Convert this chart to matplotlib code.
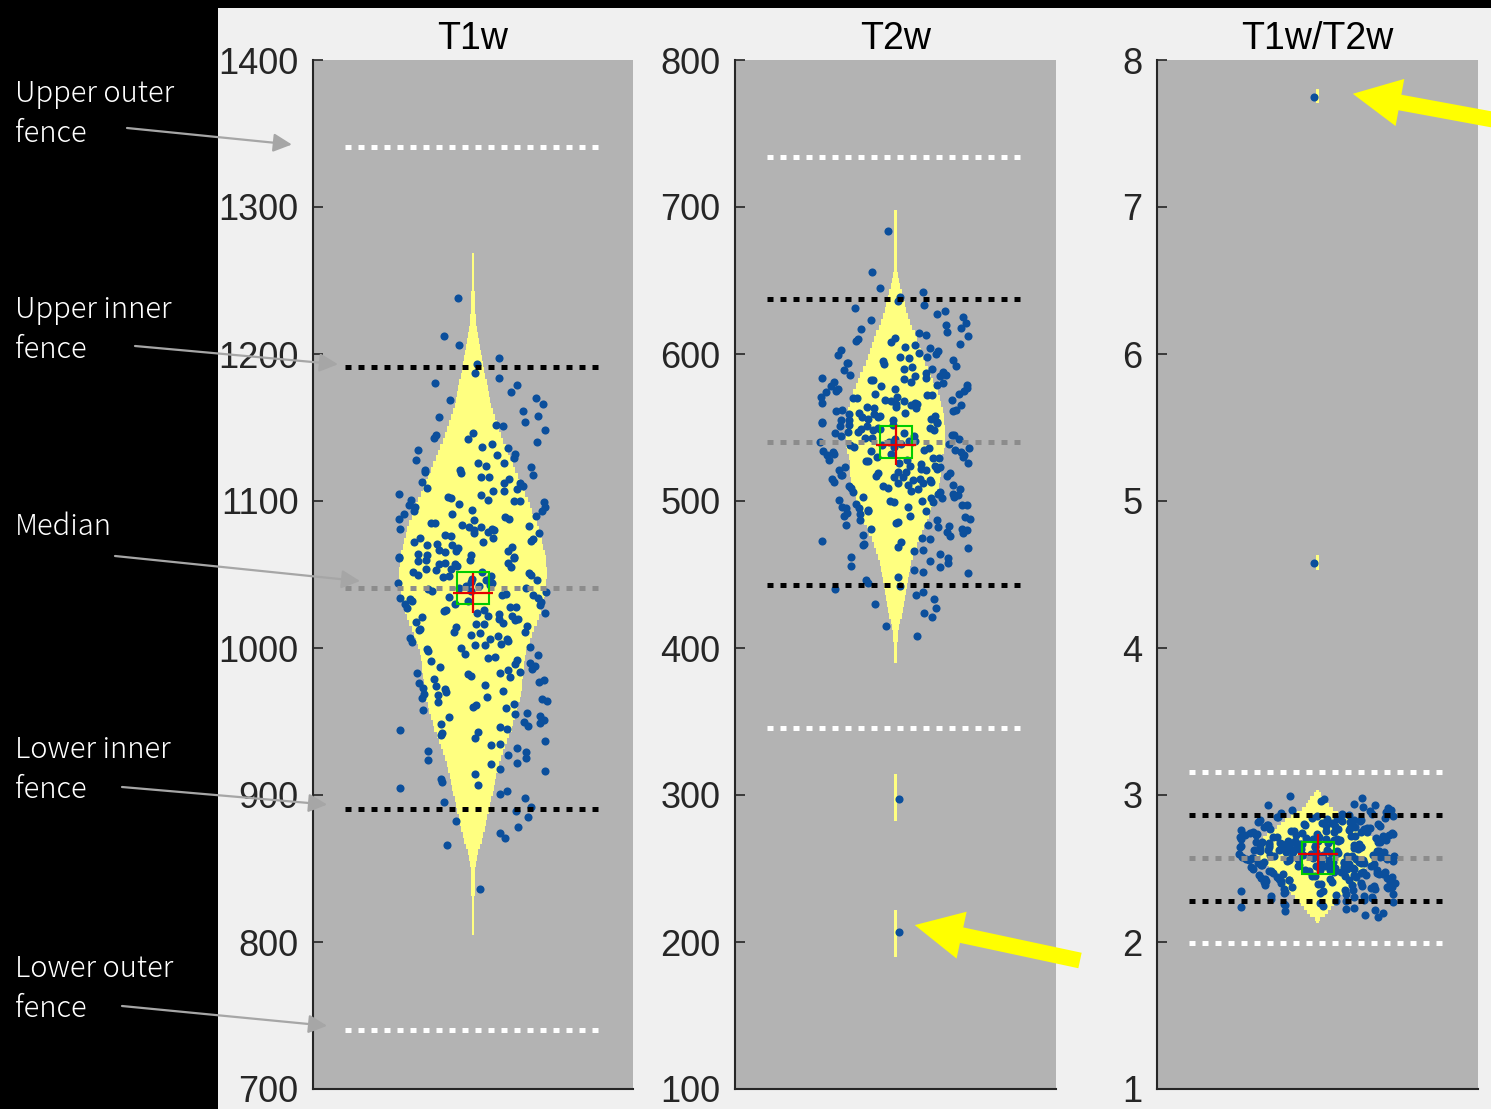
import numpy as np
import matplotlib
matplotlib.use("Agg")
import matplotlib.pyplot as plt
from matplotlib.patches import Rectangle
from matplotlib.transforms import blended_transform_factory

# ---------------------------------------------------------------- data
titles = ["T1w", "T2w", "T1w/T2w"]

t1w = [
    1238, 1212, 1206, 1197, 1193, 1187,
    1184, 1180, 1179, 1174, 1170, 1169, 1166, 1161,
    1158, 1157, 1154, 1152, 1151, 1148, 1146, 1145, 1143, 1142, 1140,
    1139, 1137, 1136, 1135, 1132, 1131, 1129, 1128, 1126, 1126, 1124, 1123, 1121, 1121, 1120,
    1119, 1118, 1116, 1116, 1115, 1113, 1112, 1112, 1110, 1109, 1108, 1107, 1107, 1105,
    1104, 1103, 1102, 1101, 1101, 1100, 1100,
    1099, 1098, 1097, 1096, 1096, 1094, 1093, 1093, 1091, 1091, 1090, 1089, 1088, 1088,
    1087, 1085, 1085, 1084, 1083, 1082, 1082, 1081, 1081, 1080, 1080,
    1079, 1078, 1078, 1077, 1076, 1075, 1075, 1074, 1073, 1072, 1072, 1071, 1070, 1070,
    1069, 1068, 1067, 1066, 1066, 1065, 1064, 1063, 1063, 1062, 1062, 1061, 1061, 1060, 1060,
    1059, 1058, 1058, 1057, 1057, 1056, 1055, 1054, 1054, 1053, 1052, 1052, 1051, 1050, 1050,
    1049, 1049, 1048, 1047, 1046, 1046, 1045, 1044, 1044, 1043, 1042, 1042, 1041, 1041, 1040,
    1039, 1039, 1038, 1037, 1036, 1036, 1035, 1034, 1034, 1033, 1032, 1032, 1031, 1030, 1030,
    1029, 1028, 1028, 1027, 1026, 1026, 1025, 1024, 1024, 1023, 1022, 1022, 1021, 1020, 1020,
    1019, 1018, 1017, 1016, 1016, 1015, 1014, 1013, 1012, 1011, 1011, 1010,
    1009, 1008, 1007, 1006, 1006, 1005, 1004, 1003, 1002, 1002, 1001, 1000,
    999, 998, 996, 995, 994, 993, 992, 991, 990, 989,
    988, 987, 986, 985, 984, 983, 983, 982, 981, 980,
    979, 978, 977, 976, 975, 974, 973, 972, 971, 970,
    969, 968, 967, 966, 965, 964, 963, 962, 961, 960,
    959, 958, 956, 955, 954, 953, 951, 950, 949, 948, 947, 946, 945, 944, 943, 942, 941,
    939, 937, 935, 934, 932, 930, 929, 927, 925, 924, 922, 921,
    918, 916, 914, 911, 909, 907, 905, 903, 901,
    898, 895, 892, 889, 885, 882,
    878, 874, 871, 866,
    836,
]

t2w = [
    684, 656, 645,
    642, 639, 636, 633, 631,
    629, 627, 625, 623, 621, 620, 618, 617, 615,
    614, 613, 612, 611, 610, 609, 608, 607, 606, 605, 604, 603, 602, 601,
    600, 599, 598, 598, 597, 596, 595, 594, 594, 593, 592, 591, 590, 590, 589, 588, 587,
    586, 586, 585, 585,
    584, 584, 583, 582, 582, 581, 581, 580, 579, 579, 578, 578, 577, 576, 576, 575, 575,
    574, 573, 573, 572, 572, 571, 571, 570, 570,
    569, 569, 568, 568, 567, 567, 566, 566, 565, 565, 564, 564, 563, 563, 562, 562, 561,
    561, 560, 560, 559, 559, 558, 558, 557, 557, 556, 556, 555, 555, 555,
    554, 554, 553, 553, 552, 552, 551, 551, 550, 550, 549, 549, 548, 548, 547, 547, 546,
    546, 545, 545, 544, 544, 543, 543, 542, 542, 541, 541, 541, 540, 540, 540,
    539, 539, 538, 538, 537, 537, 536, 536, 535, 535, 534, 534, 533, 533, 532, 532, 531,
    531, 530, 530, 529, 529, 528, 528, 527, 527, 526, 526, 525,
    524, 524, 523, 523, 522, 522, 521, 521, 520, 520, 519, 519, 518, 518, 517, 517, 516,
    516, 515, 515, 514, 514, 513, 513, 512, 512, 511, 511, 510, 510,
    509, 509, 508, 508, 507, 506, 506, 505, 505, 504, 503, 503, 502, 502, 501, 500, 500,
    499, 499, 498, 497, 497, 496, 496, 495, 495,
    494, 493, 493, 492, 491, 490, 490, 489, 488, 487, 487, 486, 485, 484, 484, 483, 482,
    481, 481, 480,
    479, 478, 477, 476, 475, 474, 473, 472, 471, 470, 469, 468, 467, 466,
    464, 462, 461, 459, 458, 456, 455, 453, 452, 451,
    448, 446, 444, 442, 440, 438, 436,
    433, 430, 427, 424, 421,
    415, 408,
    297, 207,
]

ratio = [
    7.75, 4.58,
    2.99, 2.98, 2.97, 2.96,
    2.94, 2.93, 2.93, 2.92, 2.91, 2.90,
    2.895, 2.89, 2.886, 2.88, 2.874, 2.87, 2.866, 2.86, 2.855, 2.851,
    2.848, 2.845, 2.843, 2.839, 2.836, 2.833, 2.831, 2.827, 2.824, 2.821, 2.818, 2.815,
    2.812, 2.809, 2.806, 2.802,
    2.798, 2.796, 2.793, 2.791, 2.788, 2.786, 2.783, 2.781, 2.778, 2.776, 2.773, 2.771,
    2.768, 2.766, 2.763, 2.761, 2.758, 2.756, 2.753, 2.751,
    2.749, 2.747, 2.745, 2.743, 2.741, 2.739, 2.737, 2.735, 2.733, 2.731, 2.729, 2.727,
    2.725, 2.723, 2.721, 2.719, 2.717, 2.715, 2.713, 2.711, 2.709, 2.707, 2.704, 2.702,
    2.699, 2.698, 2.696, 2.694, 2.693, 2.691, 2.689, 2.688, 2.686, 2.684, 2.683, 2.681,
    2.679, 2.678, 2.676, 2.674, 2.673, 2.671, 2.669, 2.668, 2.666, 2.664, 2.663, 2.661,
    2.659, 2.657, 2.655, 2.652,
    2.649, 2.648, 2.646, 2.644, 2.643, 2.641, 2.639, 2.638, 2.636, 2.634, 2.633, 2.631,
    2.629, 2.628, 2.626, 2.624, 2.623, 2.621, 2.619, 2.618, 2.616, 2.614, 2.613, 2.611,
    2.609, 2.607, 2.605, 2.603,
    2.599, 2.598, 2.596, 2.595, 2.593, 2.592, 2.590, 2.588, 2.587, 2.585, 2.584, 2.582,
    2.580, 2.579, 2.577, 2.576, 2.574, 2.572, 2.571, 2.569, 2.568, 2.566, 2.564, 2.563,
    2.561, 2.559, 2.557, 2.555, 2.553, 2.551,
    2.549, 2.547, 2.546, 2.544, 2.542, 2.540, 2.539, 2.537, 2.535, 2.533, 2.531, 2.529,
    2.528, 2.526, 2.524, 2.522, 2.520, 2.518, 2.516, 2.514, 2.512, 2.509, 2.506, 2.503,
    2.499, 2.497, 2.495, 2.493, 2.491, 2.489, 2.487, 2.485, 2.483, 2.481, 2.479, 2.477,
    2.475, 2.473, 2.471, 2.469, 2.467, 2.464, 2.462, 2.460, 2.458, 2.455, 2.453, 2.451,
    2.449, 2.446, 2.444, 2.441, 2.439, 2.436, 2.434, 2.431, 2.429, 2.426, 2.424, 2.421,
    2.419, 2.416, 2.413, 2.411, 2.408, 2.405, 2.403, 2.401,
    2.398, 2.395, 2.392, 2.389, 2.386, 2.383, 2.380, 2.377, 2.374, 2.371, 2.368, 2.365,
    2.362, 2.359, 2.356, 2.352,
    2.348, 2.344, 2.340, 2.336, 2.332, 2.328, 2.324, 2.320, 2.316, 2.312, 2.308, 2.303,
    2.298, 2.293, 2.287, 2.281, 2.276, 2.270, 2.265, 2.259, 2.253,
    2.247, 2.240, 2.232, 2.224, 2.216, 2.208,
    2.197, 2.185, 2.172,
]

# fences: lower outer, lower inner, median, upper inner, upper outer
fences_t1w = [740.0, 890.5, 1040.5, 1191.0, 1340.5]
fences_t2w = [345.6, 442.9, 540.0, 637.4, 734.0]
fences_ratio = [1.993, 2.279, 2.571, 2.864, 3.156]

means = [1037.4, 538.0, 2.602]
medians = [fences_t1w[2], fences_t2w[2], fences_ratio[2]]

ylims = [(700, 1400), (100, 800), (1, 8)]
yticks = [list(range(700, 1401, 100)), list(range(100, 801, 100)), list(range(1, 9))]

# ---------------------------------------------------------------- style
W, H = 1491, 1109
FIG_BG = "black"
PANEL_BG = "#f0f0f0"
AX_BG = "#b3b3b3"
VIOLIN = "#ffff80"
DOT = "#0b4f9c"
AXCOL = "#262626"
fence_colors = ["white", "black", "#8c8c8c", "black", "white"]

# kde bandwidth of the violin, its grid step, smoother bandwidth for the
# jitter spread, maximum violin half-width (axes fraction)
violin_bw = [13.0, 7.0, 0.022]
grid_step = [4.0, 4.0, 0.025]
spread_bw = [30.0, 18.0, 0.15]
violin_halfwidth = [0.23, 0.155, 0.19]
violin_min_half = 0.0045
jitter_halfwidth = [0.235, 0.235, 0.245]

ax_left_px = [313, 735, 1157]
ax_w_px = [320, 321, 321]
ax_top_px, ax_bot_px = 60, 1089

plt.rcParams["font.family"] = ["Liberation Sans", "DejaVu Sans"]

fig = plt.figure(figsize=(W / 100, H / 100), dpi=100, facecolor=FIG_BG)
fig.patches.append(Rectangle((218 / W, 0), (W - 218) / W, (H - 8) / H,
                             transform=fig.transFigure, facecolor=PANEL_BG,
                             edgecolor="none", zorder=-5))


def gauss_kde(values, grid, bw):
    z = (grid[:, None] - values[None, :]) / bw
    return np.exp(-0.5 * z ** 2).sum(axis=1) / (len(values) * bw * np.sqrt(2 * np.pi))


datasets = [t1w, t2w, ratio]
fence_sets = [fences_t1w, fences_t2w, fences_ratio]
axes = []
alpha, beta = 0.6180339887498949, 0.4142135623730951

for i in range(3):
    ax = fig.add_axes([ax_left_px[i] / W, (H - ax_bot_px) / H,
                       ax_w_px[i] / W, (ax_bot_px - ax_top_px) / H])
    axes.append(ax)
    ax.set_facecolor(AX_BG)
    ax.set_xlim(0, 1)
    ax.set_ylim(*ylims[i])
    ax.set_yticks(yticks[i])
    ax.set_xticks([])
    for s in ("top", "right"):
        ax.spines[s].set_visible(False)
    for s in ("left", "bottom"):
        ax.spines[s].set_color(AXCOL)
        ax.spines[s].set_linewidth(1.5)
    ax.tick_params(axis="y", direction="in", length=7, width=1.2, colors=AXCOL,
                   labelsize=26, pad=10.5)
    ax.set_title(titles[i], fontsize=27, pad=8, color="black")

    vals = np.asarray(datasets[i], dtype=float)

    # violin outline (stepped kde), skipping the empty stretches
    bw = violin_bw[i]
    grid = np.arange(vals.min() - 3 * bw, vals.max() + 3 * bw, grid_step[i])
    dens = gauss_kde(vals, grid, bw)
    rel = dens / dens.max()
    half = np.maximum(rel * violin_halfwidth[i], violin_min_half)
    ax.fill_betweenx(grid, 0.5 - half, 0.5 + half, where=rel > 1e-3,
                     step="mid", color=VIOLIN, linewidth=0, zorder=1)

    # jittered points, spread scaled by a smoothed density
    sd = gauss_kde(vals, vals, spread_bw[i])
    sgrid = gauss_kde(vals, np.linspace(vals.min(), vals.max(), 400), spread_bw[i])
    spread = jitter_halfwidth[i] * np.clip(sd / sgrid.max() / 0.3, 0, 1) ** 0.8
    k = np.arange(len(vals))
    u = 2 * np.mod(alpha * k * k + beta * k, 1.0) - 1
    ax.scatter(0.5 + u * spread, vals, s=34, color=DOT, linewidths=0, zorder=2)

    # fences and median
    for val, col in zip(fence_sets[i], fence_colors):
        ax.plot([0.1, 0.9], [val, val], color=col, lw=3.6,
                linestyle=(0, (1.2, 1.4)), dash_capstyle="butt", zorder=3)

    ax.plot([0.5], [medians[i]], marker="s", ms=23, mfc="none", mec="#00cc00",
            mew=1.5, zorder=4)
    ax.plot([0.5], [means[i]], marker="+", ms=29, color="#e60000", mew=1.6, zorder=5)

# ---------------------------------------------------------------- annotations
labels = ["Upper outer\nfence", "Upper inner\nfence", "Median",
          "Lower inner\nfence", "Lower outer\nfence"]
label_y_px = [113.5, 329.5, 527, 769.5, 988.5]
tail_px = [(127, 1109 - 128), (135, 1109 - 346), (115, 1109 - 556),
           (122, 1109 - 787), (122, 1109 - 1006)]
tip_x_frac = [-0.066, 0.078, 0.147, 0.044, 0.044]
tip_vals = [fences_t1w[4] + 2, fences_t1w[3] + 2, fences_t1w[2] + 5,
            fences_t1w[1] + 3, fences_t1w[0] + 3]

ax1 = axes[0]
tr1 = blended_transform_factory(ax1.transAxes, ax1.transData)
for lab, ly, tail, tx, tv in zip(labels, label_y_px, tail_px, tip_x_frac, tip_vals):
    fig.text(15 / W, 1 - ly / H, lab, color="white", fontsize=21,
             family=["Noto Sans CJK JP", "DejaVu Sans"], fontweight="light",
             ha="left", va="center", linespacing=1.4)
    ax1.annotate("", xy=(tx, tv), xycoords=tr1, xytext=tail,
                 textcoords="figure pixels", annotation_clip=False,
                 arrowprops=dict(arrowstyle="-|>,head_length=0.4,head_width=0.2",
                                 color="#a6a6a6", lw=1.6, mutation_scale=28,
                                 shrinkA=0, shrinkB=0))

# yellow arrows pointing at the extreme values
ax2, ax3 = axes[1], axes[2]
yellow_style = "simple,head_length=1.0,head_width=1.0,tail_width=0.33"
ax2.annotate("", xy=(0.56, t2w[-1] + 4.5),
             xycoords=blended_transform_factory(ax2.transAxes, ax2.transData),
             xytext=(1080, 1109 - 960.5), textcoords="figure pixels",
             annotation_clip=False,
             arrowprops=dict(arrowstyle=yellow_style, fc="#ffff00", ec="none",
                             mutation_scale=34.5, shrinkA=0, shrinkB=0))
ax3.annotate("", xy=(0.61, ratio[0] + 0.02),
             xycoords=blended_transform_factory(ax3.transAxes, ax3.transData),
             xytext=(1560, 1109 - 132), textcoords="figure pixels",
             annotation_clip=False,
             arrowprops=dict(arrowstyle=yellow_style, fc="#ffff00", ec="none",
                             mutation_scale=34.5, shrinkA=0, shrinkB=0))

fig.savefig("out.png", dpi=100, facecolor=FIG_BG)
